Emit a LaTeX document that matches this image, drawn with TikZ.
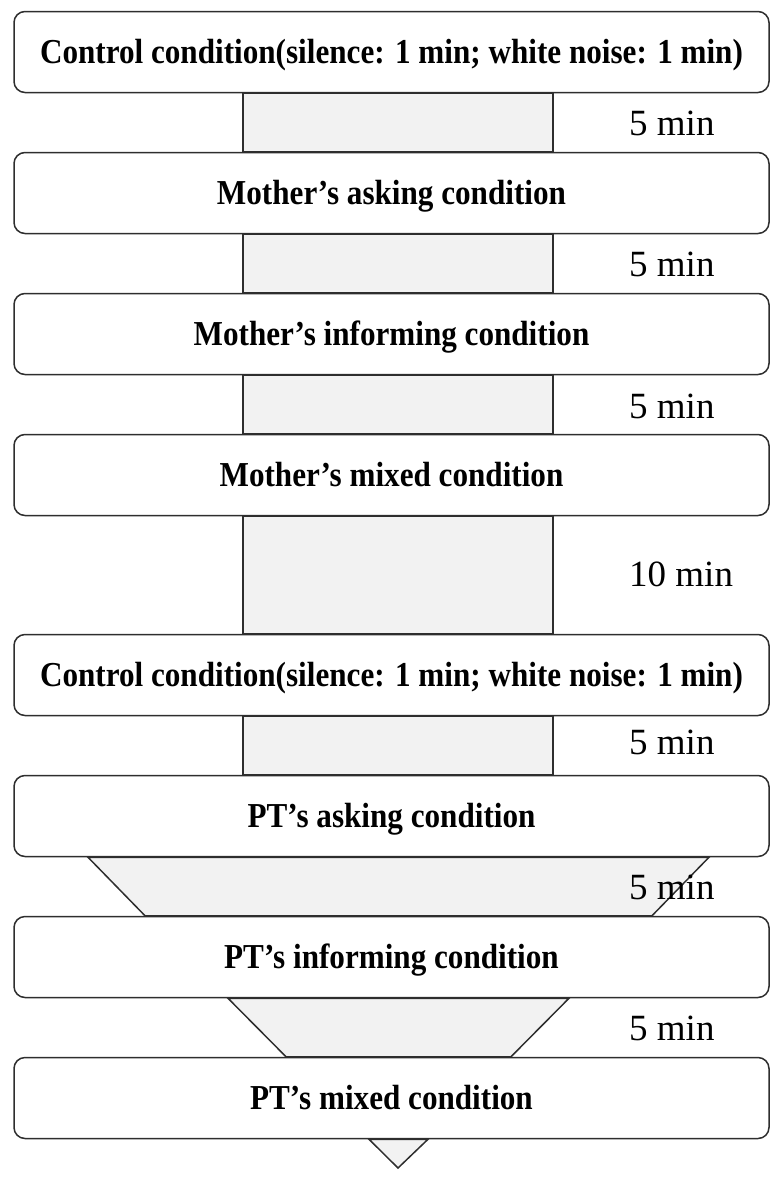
\documentclass[tikz,border=0pt]{standalone}
\IfFileExists{pplb8t.tfm}{\usepackage[T1]{fontenc}\renewcommand{\rmdefault}{ppl}}{\usepackage{fontspec}\setmainfont{Liberation Serif}}
\usepackage{graphicx}
\pgfdeclarelayer{background}
\pgfsetlayers{background,main}
\definecolor{edge}{HTML}{2E2E2E}
\definecolor{barfill}{HTML}{F2F2F2}
\tikzset{
  box/.style={draw=edge, line width=1.5pt, rounded corners=11pt, fill=white,
    minimum width=755pt, minimum height=81pt, inner sep=0pt,
    text height=22pt, text depth=0pt,
    font=\fontsize{35}{36}\selectfont\bfseries},
  bar/.style={draw=edge, line width=1.5pt, fill=barfill},
  lbl/.style={anchor=west, inner sep=0pt, font=\fontsize{37}{38}\selectfont}
}
\newcommand{\sq}[1]{\scalebox{0.89}[1]{#1}}
\begin{document}
\begin{tikzpicture}[x=1pt,y=-1pt]
\useasboundingbox (0,0) rectangle (782,1178);
\node[box] (b1) at (391.5,52)   {\sq{Control condition(silence: 1 min; white noise: 1 min)}};
\node[box] (b2) at (391.5,193)  {\sq{Mother’s asking condition}};
\node[box] (b3) at (391.5,334)  {\sq{Mother’s informing condition}};
\node[box] (b4) at (391.5,475)  {\sq{Mother’s mixed condition}};
\node[box] (b5) at (391.5,675)  {\sq{Control condition(silence: 1 min; white noise: 1 min)}};
\node[box] (b6) at (391.5,816)  {\sq{PT’s asking condition}};
\node[box] (b7) at (391.5,957)  {\sq{PT’s informing condition}};
\node[box] (b8) at (391.5,1098) {\sq{PT’s mixed condition}};
\begin{pgfonlayer}{background}
\draw[bar] (243,0 |- b1.south) rectangle (553,0 |- b2.north);
\draw[bar] (243,0 |- b2.south) rectangle (553,0 |- b3.north);
\draw[bar] (243,0 |- b3.south) rectangle (553,0 |- b4.north);
\draw[bar] (243,0 |- b4.south) rectangle (553,0 |- b5.north);
\draw[bar] (243,0 |- b5.south) rectangle (553,0 |- b6.north);
\draw[bar] (88,0 |- b6.south) -- (709,0 |- b6.south) -- (652,0 |- b7.north) -- (145,0 |- b7.north) -- cycle;
\draw[bar] (228,0 |- b7.south) -- (569,0 |- b7.south) -- (511,0 |- b8.north) -- (286,0 |- b8.north) -- cycle;
\draw[bar] (369,0 |- b8.south) -- (428,0 |- b8.south) -- (398,1168) -- cycle;
\end{pgfonlayer}
\node[lbl] (l1) at (629,123)  {5 min};
\node[lbl] (l2) at (629,264)  {5 min};
\node[lbl] (l3) at (629,406)  {5 min};
\node[lbl] (l4) at (629,574)  {10 min};
\node[lbl] (l5) at (629,742)  {5 min};
\node[lbl] (l6) at (629,887)  {5 min};
\node[lbl] (l7) at (629,1028) {5 min};
\end{tikzpicture}
\end{document}
